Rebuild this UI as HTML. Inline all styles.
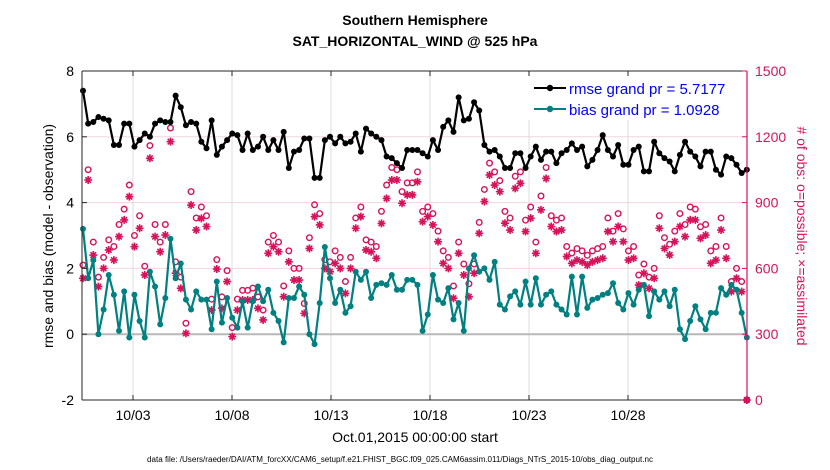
<!DOCTYPE html>
<html><head><meta charset="utf-8"><style>
body{margin:0;background:#fff;}
svg{display:block;font-family:"Liberation Sans",sans-serif;}
</style></head><body>
<svg id="chart" width="830" height="470" viewBox="0 0 830 470" xmlns="http://www.w3.org/2000/svg">
<rect width="830" height="470" fill="#fff"/>
<text x="415" y="25" text-anchor="middle" font-size="14" font-weight="bold">Southern Hemisphere</text>
<text x="415" y="46" text-anchor="middle" font-size="14" font-weight="bold">SAT_HORIZONTAL_WIND @ 525 hPa</text>
<rect x="82" y="71" width="665" height="329" fill="#fff"/>
<g id="grid"></g>
<g id="marks"></g>
<g id="axes"></g>
<g>
<rect x="528" y="76" width="215" height="44" fill="#fff"/>
<g>
<line x1="534" y1="88" x2="566" y2="88" stroke="#000" stroke-width="2"/><circle cx="550" cy="88" r="3.2" fill="#000"/>
<text x="569" y="94" font-size="15" fill="#0000ff">rmse grand pr = 5.7177</text></g>
<g>
<line x1="534" y1="109" x2="566" y2="109" stroke="#008080" stroke-width="2"/><circle cx="550" cy="109" r="3.2" fill="#008080"/>
<text x="569" y="115" font-size="15" fill="#0000ff">bias grand pr = 1.0928</text></g>
</g>
<text transform="translate(53,236) rotate(-90)" text-anchor="middle" font-size="14">rmse and bias (model - observation)</text>
<text transform="translate(797,236) rotate(90)" text-anchor="middle" font-size="14" fill="#d6135a"># of obs: o=possible; ×=assimilated</text>
<text x="415" y="442" text-anchor="middle" font-size="14">Oct.01,2015 00:00:00 start</text>
<text x="400" y="462" text-anchor="middle" font-size="8" textLength="506" lengthAdjust="spacingAndGlyphs">data file: /Users/raeder/DAI/ATM_forcXX/CAM6_setup/f.e21.FHIST_BGC.f09_025.CAM6assim.011/Diags_NTrS_2015-10/obs_diag_output.nc</text>
</svg>
<script>
const rmseVals=[7.4,6.4,6.45,6.6,6.55,6.5,5.75,5.75,6.4,6.4,5.7,5.9,6.1,6.0,6.4,6.5,6.45,6.45,7.25,6.9,6.35,6.45,6.4,5.85,5.65,6.5,5.45,5.7,5.9,6.1,6.05,5.6,
6.1,5.6,5.7,6.0,5.6,5.9,5.6,6.15,5.05,5.55,5.6,5.95,5.95,4.75,4.75,5.9,6.0,5.8,6.0,5.8,5.85,6.1,5.55,6.25,6.1,6.0,5.9,5.4,5.35,5.2,5.05,5.6,
5.6,5.6,5.5,5.4,5.9,5.6,6.3,6.5,6.15,7.2,6.5,6.55,7.05,6.8,5.75,5.55,5.6,5.4,5.05,5.05,5.5,5.5,5.05,5.4,5.7,5.3,5.55,5.55,5.2,5.5,5.6,5.8,
5.6,5.7,5.1,5.3,5.6,6.05,5.6,5.4,5.75,5.15,5.15,5.6,5.7,4.95,4.95,5.85,5.5,5.35,5.25,4.95,5.45,5.85,5.55,5.4,5.1,5.55,5.55,5.0,4.85,5.4,5.35,5.15,4.9,5.0];
const biasVals=[3.2,1.7,2.25,0.0,0.75,1.8,1.2,0.1,1.3,-0.1,1.2,0.4,-0.1,1.9,1.45,0.3,1.1,2.9,1.7,2.15,1.05,0.75,1.3,1.05,1.05,0.15,1.6,0.35,1.1,0.5,0.2,1.0,
0.2,1.0,1.45,1.0,1.35,0.65,0.4,-0.25,1.1,1.1,1.45,1.2,0.0,-0.3,0.95,2.65,1.7,0.95,1.35,0.65,0.85,1.9,1.65,1.9,1.1,1.5,1.55,1.5,1.8,1.35,1.35,1.65,
1.65,1.5,0.1,0.6,1.8,1.05,0.95,1.4,0.45,0.95,0.1,2.0,2.4,1.9,2.0,1.65,2.2,0.9,0.75,1.15,1.3,0.9,1.6,0.9,1.7,0.9,1.2,1.3,0.9,0.75,0.6,1.75,
0.6,1.75,0.8,1.05,1.1,1.2,1.25,1.55,0.95,0.75,1.25,0.9,1.35,1.5,0.55,1.3,1.05,1.3,0.85,1.35,0.15,-0.15,0.4,0.85,0.45,0.15,0.65,0.65,1.4,1.2,1.5,1.35,0.65,-0.1];
const assimVals=[555,1003,661,517,600,684,638,745,821,927,699,783,570,1102,745,676,752,1178,578,509,304,889,775,828,791,410,597,418,540,289,410,456,
456,456,418,365,669,699,676,471,630,547,547,395,691,836,798,600,585,623,600,486,600,783,836,684,676,646,805,919,1003,1003,897,935,
935,995,813,836,798,722,623,600,464,669,570,471,578,760,905,1026,980,950,806,775,965,988,768,829,669,867,1010,791,768,775,654,623,
638,630,615,630,638,646,768,722,791,722,638,646,524,578,509,555,783,691,661,722,791,745,821,821,737,752,623,638,775,646,494,555,494,0];
const possVals=[615,1050,720,560,650,730,700,800,870,980,750,840,610,1160,800,720,800,1240,630,560,350,950,830,880,840,460,640,470,590,330,460,500,
500,510,470,410,720,750,720,520,680,600,600,440,740,890,850,640,630,680,650,540,650,830,880,730,720,700,860,980,1060,1050,950,990,
990,1040,860,880,850,770,680,650,520,720,620,530,620,810,960,1080,1040,1000,860,830,1020,1040,820,880,720,930,1060,840,820,830,700,670,
690,680,660,680,690,700,830,770,850,780,680,700,570,620,560,600,840,740,710,770,850,800,880,870,790,800,680,700,830,700,540,600,540,0];
const leftTicks=[-2,0,2,4,6,8];
const rightTicks=[0,300,600,900,1200,1500];
const dateTicks=[2,7,12,17,22,27];
const dateLabels=["10/03","10/08","10/13","10/18","10/23","10/28"];
const tStart=-0.525, tEnd=33.0;

const X0=82,X1=747,Y0=71,Y1=400;
const xDay=t=>93.4+19.8*t;
const yL=v=>Y1-(v+2)/10*(Y1-Y0);
const yR=v=>Y1-v/1500*(Y1-Y0);
const tOf=i=>tStart+i*(tEnd-tStart)/(rmseVals.length-1);
const NS="http://www.w3.org/2000/svg";
function mk(tag,attrs,parent){const e=document.createElementNS(NS,tag);for(const k in attrs)e.setAttribute(k,attrs[k]);parent.appendChild(e);return e;}
const grid=document.getElementById('grid'),marks=document.getElementById('marks'),axes=document.getElementById('axes');

rightTicks.forEach(v=>{if(v>0&&v<1500){const l=mk('line',{x1:X0,x2:X1,y1:yR(v),y2:yR(v),stroke:'#f0d6e0','stroke-width':1},grid);

}});
dateTicks.forEach(d=>{const l=mk('line',{x1:xDay(d),x2:xDay(d),y1:Y0,y2:Y1,stroke:'#dcdcdc','stroke-width':1},grid);

});
const z=mk('line',{x1:X0,x2:X1,y1:yL(0),y2:yL(0),stroke:'#b8b8b8','stroke-width':2},grid);



const pink='#d6135a';
possVals.forEach((v,i)=>{const c=mk('circle',{cx:xDay(tOf(i)),cy:yR(v),r:2.8,fill:'none',stroke:pink,'stroke-width':1.4},marks);

});
assimVals.forEach((v,i)=>{const cx=xDay(tOf(i)),cy=yR(v),r=4;
const g=mk('path',{d:`M${cx-r} ${cy}H${cx+r}M${cx} ${cy-r}V${cy+r}M${cx-2.8} ${cy-2.8}L${cx+2.8} ${cy+2.8}M${cx-2.8} ${cy+2.8}L${cx+2.8} ${cy-2.8}`,stroke:pink,'stroke-width':1.6},marks);

});

function series(vals,color,name){
const pts=vals.map((v,i)=>xDay(tOf(i)).toFixed(1)+','+yL(v).toFixed(1)).join(' ');
const pl=mk('polyline',{points:pts,fill:'none',stroke:color,'stroke-width':2.2,'stroke-linejoin':'round'},marks);


vals.forEach((v,i)=>{const c=mk('circle',{cx:xDay(tOf(i)),cy:yL(v),r:3,fill:color},marks);

});
}
series(biasVals,'#008080','bias');
series(rmseVals,'#000000','rmse');

const fr=mk('path',{d:`M${X0} ${Y0}H${X1}M${X0} ${Y1}H${X1}M${X0} ${Y0}V${Y1}`,stroke:'#262626','stroke-width':1,fill:'none'},axes);


const ra=mk('line',{x1:X1,x2:X1,y1:Y0,y2:Y1,stroke:pink,'stroke-width':1.2},axes);


leftTicks.forEach(v=>{const y=yL(v);
mk('line',{x1:X0,x2:X0+5,y1:y,y2:y,stroke:'#262626'},axes);
const t=mk('text',{x:X0-8,y:y+5,'text-anchor':'end','font-size':14},axes);t.textContent=v;

});
rightTicks.forEach(v=>{const y=yR(v);
mk('line',{x1:X1-5,x2:X1,y1:y,y2:y,stroke:pink},axes);
const t=mk('text',{x:X1+8,y:y+5,'font-size':14,fill:pink},axes);t.textContent=v;

});
dateTicks.forEach((d,k)=>{const x=xDay(d);
mk('line',{x1:x,x2:x,y1:Y1,y2:Y1-5,stroke:'#262626'},axes);
mk('line',{x1:x,x2:x,y1:Y0,y2:Y0+5,stroke:'#262626'},axes);
const t=mk('text',{x:x,y:420,'text-anchor':'middle','font-size':14},axes);t.textContent=dateLabels[k];

});
</script>
</body></html>
